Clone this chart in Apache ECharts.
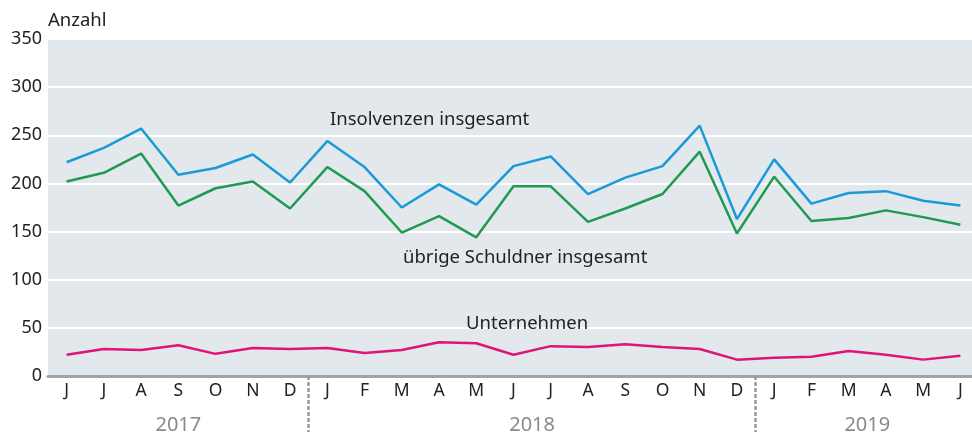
<!DOCTYPE html>
<html>
<head>
<meta charset="utf-8">
<script src="https://cdn.jsdelivr.net/npm/echarts@6/dist/echarts.min.js"></script>
<style>
  html, body { margin: 0; padding: 0; background: #fff; overflow: hidden; }
  /* Zeichenfläche läuft rechts etwas über den Bildrand hinaus */
  #chart { width: 979px; height: 435px; }
</style>
</head>
<body>
<div id="chart"></div>
<script>
// Monate Juni 2017 bis Juni 2019
const months = ['J', 'J', 'A', 'S', 'O', 'N', 'D',
  'J', 'F', 'M', 'A', 'M', 'J', 'J', 'A', 'S', 'O', 'N', 'D',
  'J', 'F', 'M', 'A', 'M', 'J'];
const years = ['2017', '2018', '2019'];
const monthsPerYear = [7, 12, 6];

const insolvenzen = [222, 237, 257, 209, 216, 230, 201, 244, 217, 175, 199, 178, 218,
  228, 189, 206, 218, 260, 163, 225, 179, 190, 192, 182, 177];
const uebrige = [202, 211, 231, 177, 195, 202, 174, 217, 192, 149, 166, 144, 197,
  197, 160, 174, 189, 233, 148, 207, 161, 164, 172, 165, 157];
const unternehmen = [22, 28, 27, 32, 23, 29, 28, 29, 24, 27, 35, 34, 22,
  31, 30, 33, 30, 28, 17, 19, 20, 26, 22, 17, 21];

// Jahresgrenzen und -mitten auf einer Wertachse 0..25
const yearBounds = [];
const yearCenters = [];
let acc = 0;
monthsPerYear.forEach(function (n, i) {
  yearCenters.push(acc + n / 2);
  acc += n;
  if (i < monthsPerYear.length - 1) yearBounds.push(acc);
});

const font = 'Noto Sans';
const chart = echarts.init(document.getElementById('chart'));

const option = {
  animation: false,
  textStyle: { fontFamily: font },
  grid: {
    left: 48, right: 0, top: 39, bottom: 59,
    show: true, backgroundColor: '#e3e8ec', borderWidth: 0
  },
  xAxis: [
    {
      type: 'category',
      data: months,
      boundaryGap: true,
      axisLine: { lineStyle: { color: '#a3a3a3', width: 3 } },
      axisTick: { show: false },
      axisLabel: { color: '#222', fontSize: 17.5, margin: 6, interval: 0, fontFamily: font }
    },
    {
      type: 'value',
      position: 'bottom',
      min: 0,
      max: months.length,
      axisLine: { show: false },
      splitLine: { show: false },
      axisTick: {
        show: true,
        customValues: yearBounds,
        length: 56,
        lineStyle: { color: '#9a9a9a', width: 2.5, type: [4, 2] }
      },
      axisLabel: {
        customValues: yearCenters,
        margin: 39,
        color: '#8a8a8a',
        fontSize: 20,
        fontFamily: font,
        formatter: function (v) {
          const i = yearCenters.indexOf(v);
          return i >= 0 ? years[i] : '';
        }
      }
    }
  ],
  yAxis: {
    type: 'value',
    min: 0, max: 350, interval: 50,
    axisLine: { show: false },
    axisTick: { show: false },
    splitLine: { lineStyle: { color: '#ffffff', width: 2 } },
    axisLabel: { color: '#222', fontSize: 18, margin: 6, fontFamily: font }
  },
  graphic: [
    { type: 'text', z: 100, left: 48, top: 11, style: { text: 'Anzahl', fill: '#222', font: '18.5px ' + font } },
    { type: 'text', z: 100, left: 330, top: 110, style: { text: 'Insolvenzen insgesamt', fill: '#222', font: '18.5px ' + font } },
    { type: 'text', z: 100, left: 403, top: 248, style: { text: 'übrige Schuldner insgesamt', fill: '#222', font: '18.5px ' + font } },
    { type: 'text', z: 100, left: 466, top: 314, style: { text: 'Unternehmen', fill: '#222', font: '18.5px ' + font } }
  ],
  series: [
    {
      name: 'Insolvenzen insgesamt', type: 'line', data: insolvenzen,
      symbol: 'none', lineStyle: { color: '#1a9ad6', width: 2.5 }
    },
    {
      name: 'übrige Schuldner insgesamt', type: 'line', data: uebrige,
      symbol: 'none', lineStyle: { color: '#1f9a50', width: 2.5 }
    },
    {
      name: 'Unternehmen', type: 'line', data: unternehmen,
      symbol: 'none', lineStyle: { color: '#e0137a', width: 2.5 }
    }
  ]
};
chart.setOption(option);
</script>
</body>
</html>
